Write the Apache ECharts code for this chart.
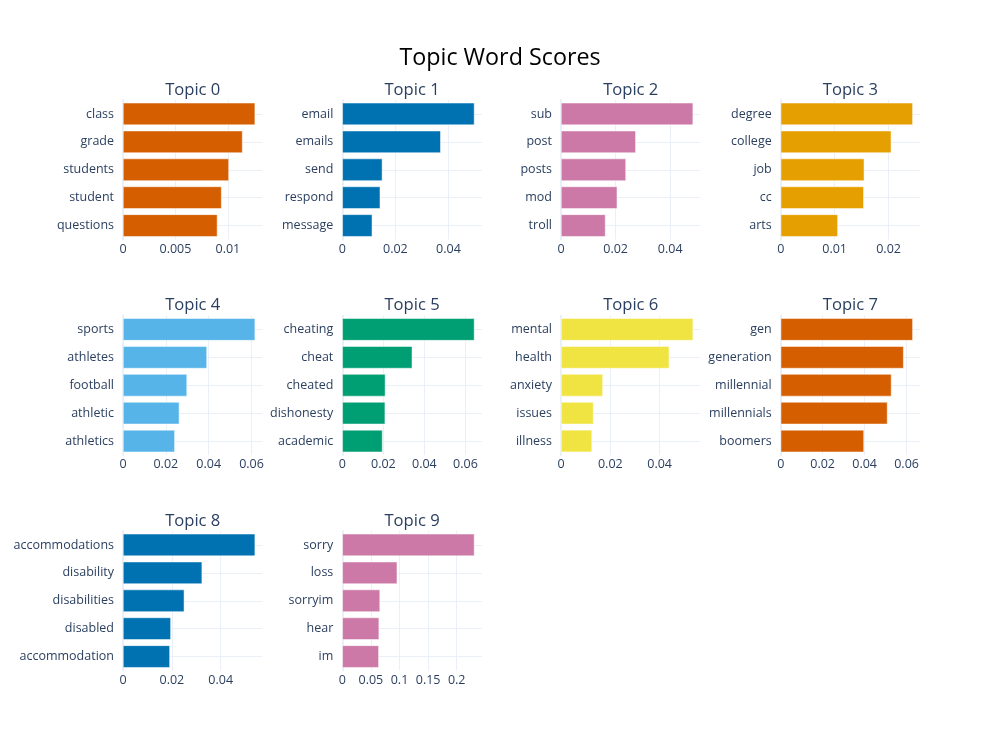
<!DOCTYPE html>
<html>
<head>
<meta charset="utf-8">
<script src="https://cdn.jsdelivr.net/npm/echarts@6/dist/echarts.min.js"></script>
<style>
html,body{margin:0;padding:0;background:#fff;}
#chart{width:1000px;height:750px;}
</style>
</head>
<body>
<div id="chart"></div>
<script>
// ---- data ----
const topicTitles = ["Topic 0","Topic 1","Topic 2","Topic 3","Topic 4","Topic 5","Topic 6","Topic 7","Topic 8","Topic 9"];
const words0 = ["class","grade","students","student","questions"];
const words1 = ["email","emails","send","respond","message"];
const words2 = ["sub","post","posts","mod","troll"];
const words3 = ["degree","college","job","cc","arts"];
const words4 = ["sports","athletes","football","athletic","athletics"];
const words5 = ["cheating","cheat","cheated","dishonesty","academic"];
const words6 = ["mental","health","anxiety","issues","illness"];
const words7 = ["gen","generation","millennial","millennials","boomers"];
const words8 = ["accommodations","disability","disabilities","disabled","accommodation"];
const words9 = ["sorry","loss","sorryim","hear","im"];
const scores0 = [0.0126, 0.0114, 0.0101, 0.0094, 0.0090];
const scores1 = [0.0498, 0.0371, 0.0151, 0.0143, 0.0113];
const scores2 = [0.0484, 0.0274, 0.0238, 0.0206, 0.0163];
const scores3 = [0.0245, 0.0205, 0.0155, 0.0154, 0.0106];
const scores4 = [0.0617, 0.0392, 0.0299, 0.0263, 0.0242];
const scores5 = [0.0644, 0.0341, 0.0210, 0.0209, 0.0196];
const scores6 = [0.0536, 0.0439, 0.0170, 0.0132, 0.0126];
const scores7 = [0.0630, 0.0586, 0.0528, 0.0509, 0.0397];
const scores8 = [0.0541, 0.0324, 0.0251, 0.0196, 0.0192];
const scores9 = [0.231, 0.096, 0.066, 0.0644, 0.0639];
const tickStep = [0.005, 0.02, 0.02, 0.01, 0.02, 0.02, 0.02, 0.02, 0.02, 0.05];

const allWords = [words0,words1,words2,words3,words4,words5,words6,words7,words8,words9];
const allScores = [scores0,scores1,scores2,scores3,scores4,scores5,scores6,scores7,scores8,scores9];

// ---- style / layout ----
const colors = ["#D55E00","#0072B2","#CC79A7","#E69F00","#56B4E9","#009E73","#F0E442","#D55E00","#0072B2","#CC79A7"];
const colLeft = [123, 342.3, 561, 780.7];
const rowTop = [100, 315.5, 531];
const cellW = 139.5, cellH = 139.5;
const font = "'Open Sans', 'Noto Sans', sans-serif";
const textColor = "#2a3f5f";
const gridColor = "#ebf0f8";

const grids = [], xAxes = [], yAxes = [], series = [];
const titles = [{
  text: "Topic Word Scores",
  left: 500, top: 46, textAlign: "center", padding: 0,
  textStyle: {fontFamily: font, fontSize: 23.3, fontWeight: "normal", color: "#000", lineHeight: 25}
}];

for (let i = 0; i < topicTitles.length; i++) {
  const c = i % 4, r = Math.floor(i / 4);
  const left = colLeft[c], top = rowTop[r];
  grids.push({left: left, top: top, width: cellW, height: cellH, containLabel: false});
  titles.push({
    text: topicTitles[i],
    left: left + cellW / 2, top: top - 19.5, textAlign: "center", padding: 0,
    textStyle: {fontFamily: font, fontSize: 16.6, fontWeight: "normal", color: textColor, lineHeight: 19}
  });
  xAxes.push({
    type: "value", gridIndex: i, min: 0,
    max: function (v) { return v.max * 1.0556; },
    interval: tickStep[i],
    axisLine: {show: false}, axisTick: {show: false},
    splitLine: {show: true, showMaxLine: false, lineStyle: {color: gridColor, width: 1}},
    axisLabel: {showMaxLabel: false, fontFamily: font, fontSize: 12.5, color: textColor, margin: 3}
  });
  yAxes.push({
    type: "category", gridIndex: i, inverse: true, data: allWords[i],
    axisLine: {show: true, lineStyle: {color: gridColor, width: 2}},
    axisTick: {show: false, alignWithLabel: true},
    splitLine: {show: true, alignWithLabel: true, lineStyle: {color: gridColor, width: 1}},
    axisLabel: {fontFamily: font, fontSize: 12.5, color: textColor, margin: 9}
  });
  series.push({
    type: "bar", xAxisIndex: i, yAxisIndex: i, data: allScores[i],
    barCategoryGap: "20%",
    itemStyle: {color: colors[i], borderColor: "#ffffff", borderWidth: 0.5},
    animation: false
  });
}

const chart = echarts.init(document.getElementById("chart"), null, {renderer: "canvas"});
chart.setOption({
  backgroundColor: "#fff",
  animation: false,
  title: titles,
  grid: grids,
  xAxis: xAxes,
  yAxis: yAxes,
  series: series
});
</script>
</body>
</html>
